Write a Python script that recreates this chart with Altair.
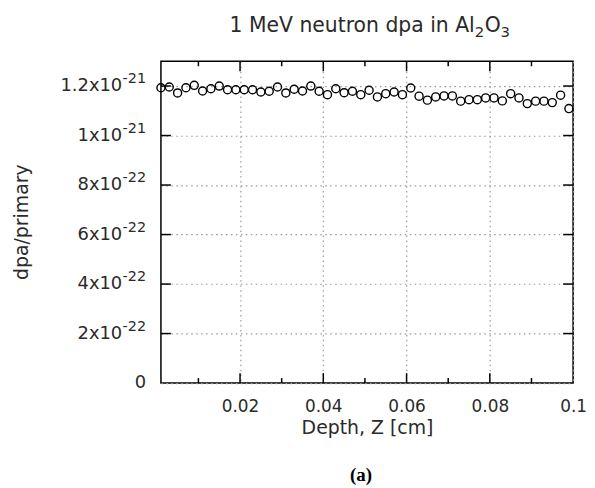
import altair as alt
import pandas as pd

# Depth bin centres [cm]
depth = [0.001, 0.003, 0.005, 0.007, 0.009, 0.011, 0.013, 0.015, 0.017, 0.019,
         0.021, 0.023, 0.025, 0.027, 0.029, 0.031, 0.033, 0.035, 0.037, 0.039,
         0.041, 0.043, 0.045, 0.047, 0.049, 0.051, 0.053, 0.055, 0.057, 0.059,
         0.061, 0.063, 0.065, 0.067, 0.069, 0.071, 0.073, 0.075, 0.077, 0.079,
         0.081, 0.083, 0.085, 0.087, 0.089, 0.091, 0.093, 0.095, 0.097, 0.099]
# dpa/primary in units of 1e-21
dpa_e21 = [1.193, 1.196, 1.172, 1.193, 1.203, 1.180, 1.189, 1.200, 1.185, 1.185,
           1.185, 1.185, 1.176, 1.179, 1.196, 1.172, 1.187, 1.180, 1.200, 1.179,
           1.165, 1.189, 1.173, 1.179, 1.165, 1.183, 1.156, 1.169, 1.176, 1.165,
           1.192, 1.159, 1.143, 1.156, 1.160, 1.160, 1.139, 1.145, 1.145, 1.152,
           1.152, 1.140, 1.169, 1.152, 1.129, 1.139, 1.139, 1.133, 1.163, 1.109]

x_major = [0.02, 0.04, 0.06, 0.08]
x_minor = [0.01, 0.03, 0.05, 0.07, 0.09]
x_labels_at = [0.02, 0.04, 0.06, 0.08, 0.1]
y_ticks = [0, 2e-22, 4e-22, 6e-22, 8e-22, 1e-21, 1.2e-21]
y_base = ["0", "2x10", "4x10", "6x10", "8x10", "1x10", "1.2x10"]
y_sup = ["", "-22", "-22", "-22", "-22", "-21", "-21"]

TITLE_MAIN = "1 MeV neutron dpa in Al"
TITLE_SUB1 = "2"
TITLE_MID = "O"
TITLE_SUB2 = "3"

W, H = 415, 324
FONT = "DejaVu Sans"
TXT = "#2a2a2a"

df = pd.DataFrame({"z": depth, "dpa": [v * 1e-21 for v in dpa_e21]})
xscale = alt.Scale(domain=[0.001, 0.1], nice=False, zero=False)
yscale = alt.Scale(domain=[0, 1.3e-21], nice=False)

points = alt.Chart(df).mark_point(
    shape="circle", filled=False, color="black", size=66, strokeWidth=1.4, opacity=1
).encode(
    x=alt.X("z:Q", scale=xscale,
            axis=alt.Axis(values=x_labels_at, format=".2~f",
                          title="Depth, Z [cm]", ticks=False, domain=False,
                          grid=True, gridDash=[1.5, 3.5], gridColor="#999999",
                          gridWidth=1.2,
                          labelFont=FONT, labelFontSize=17, labelColor=TXT,
                          labelPadding=16, titleFont=FONT, titleFontSize=19,
                          titleFontWeight="normal", titleColor=TXT,
                          titlePadding=4, labelFlush=False)),
    y=alt.Y("dpa:Q", scale=yscale,
            axis=alt.Axis(values=y_ticks, labels=False, title=None, ticks=False,
                          domain=False, grid=True, gridDash=[1.5, 3.5],
                          gridColor="#999999", gridWidth=1.2)),
)

tick_df_maj = pd.DataFrame({"t": x_major})
tick_df_min = pd.DataFrame({"t": x_minor})
ytick_df = pd.DataFrame({"v": y_ticks[1:]})


def xticks(d, length):
    base = alt.Chart(d).mark_rule(color="black", strokeWidth=1.5)
    bot = base.encode(x=alt.X("t:Q", scale=xscale), y=alt.value(H), y2=alt.value(H - length))
    top = base.encode(x=alt.X("t:Q", scale=xscale), y=alt.value(0), y2=alt.value(length))
    return bot + top


ybase = alt.Chart(ytick_df).mark_rule(color="black", strokeWidth=1.5)
yl = ybase.encode(y=alt.Y("v:Q", scale=yscale), x=alt.value(0), x2=alt.value(10))
yr = ybase.encode(y=alt.Y("v:Q", scale=yscale), x=alt.value(W - 10), x2=alt.value(W))

# y tick labels with real superscripts
ylab = pd.DataFrame({"v": y_ticks, "b": y_base, "s": y_sup})
ylab_sup = ylab[ylab["s"] != ""]
ylab_zero = ylab[ylab["s"] == ""]
SUPW = 24
lab_base = alt.Chart(ylab_sup).mark_text(
    font=FONT, fontSize=18, color=TXT, align="right", baseline="middle"
).encode(text="b:N", y=alt.Y("v:Q", scale=yscale), x=alt.value(-15 - SUPW))
lab_sup = alt.Chart(ylab_sup).mark_text(
    font=FONT, fontSize=14.5, color=TXT, align="right", baseline="middle", dy=-7
).encode(text="s:N", y=alt.Y("v:Q", scale=yscale), x=alt.value(-15))
lab_zero = alt.Chart(ylab_zero).mark_text(
    font=FONT, fontSize=18, color=TXT, align="right", baseline="middle"
).encode(text="b:N", y=alt.Y("v:Q", scale=yscale), x=alt.value(-15))

ytitle = alt.Chart(pd.DataFrame({"t": ["dpa/primary"]})).mark_text(
    font=FONT, fontSize=19, color=TXT, angle=270, align="center", baseline="middle"
).encode(text="t:N", x=alt.value(-140), y=alt.value(H / 2))

# title pieces with real subscripts
TY = -29
t1 = alt.Chart(pd.DataFrame({"t": [TITLE_MAIN]})).mark_text(
    font=FONT, fontSize=20.5, color=TXT, align="right", baseline="alphabetic"
).encode(text="t:N", x=alt.value(316), y=alt.value(TY))
t2 = alt.Chart(pd.DataFrame({"t": [TITLE_SUB1]})).mark_text(
    font=FONT, fontSize=15, color=TXT, align="left", baseline="alphabetic"
).encode(text="t:N", x=alt.value(316), y=alt.value(TY + 5))
t3 = alt.Chart(pd.DataFrame({"t": [TITLE_MID]})).mark_text(
    font=FONT, fontSize=20.5, color=TXT, align="left", baseline="alphabetic"
).encode(text="t:N", x=alt.value(326), y=alt.value(TY))
t4 = alt.Chart(pd.DataFrame({"t": [TITLE_SUB2]})).mark_text(
    font=FONT, fontSize=15, color=TXT, align="left", baseline="alphabetic"
).encode(text="t:N", x=alt.value(342), y=alt.value(TY + 5))

caption = alt.Chart(pd.DataFrame({"c": ["(a)"]})).mark_text(
    font="Liberation Serif", fontWeight="bold", fontSize=19, color="black",
    baseline="middle", align="center"
).encode(text="c:N", x=alt.value(W / 2 - 6), y=alt.value(H + 93))

chart = alt.layer(
    points, xticks(tick_df_maj, 10), xticks(tick_df_min, 5), yl, yr,
    lab_base, lab_sup, lab_zero, ytitle, t1, t2, t3, t4, caption
).properties(
    width=W, height=H,
    autosize=alt.AutoSizeParams(type="none"),
    padding={"left": 154, "top": 52, "right": 14, "bottom": 102},
).configure_view(stroke="black", strokeWidth=1.5)

chart.save("out.html", embed_options={"renderer": "svg", "actions": False})
